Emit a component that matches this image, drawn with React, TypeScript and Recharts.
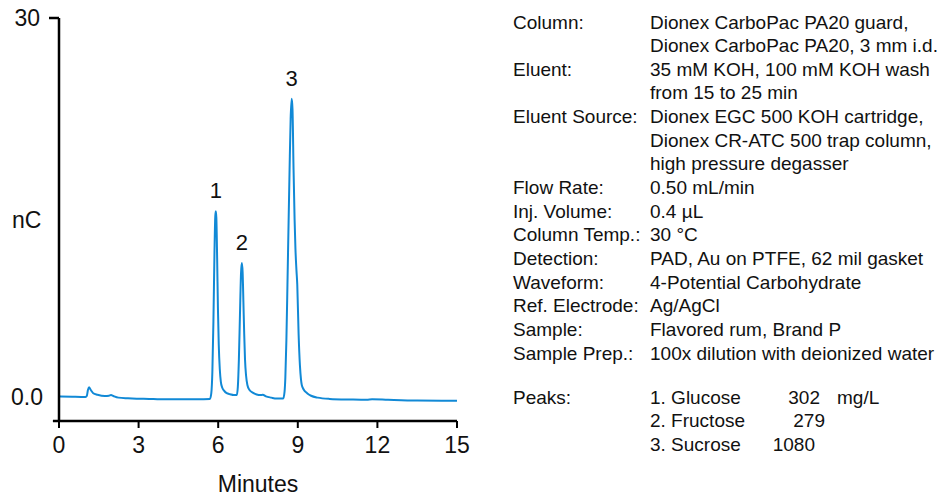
import { Line, LineChart, ReferenceDot, ReferenceLine, XAxis, YAxis } from "recharts";

// retention time (min) and detector response (nC)
const times = [
  0, 0.5, 1.0, 1.05, 1.09, 1.13, 1.2, 1.29, 1.45, 1.73, 1.88, 1.96, 2.05, 2.24, 2.6, 2.93, 3.4, 3.81, 4.5, 5.2, 5.69,
  5.74, 5.78, 5.82, 5.86, 5.89, 5.91, 5.93, 5.96, 5.99, 6.02, 6.06, 6.1, 6.15, 6.22, 6.32, 6.45, 6.58, 6.66,
  6.7, 6.74, 6.78, 6.82, 6.86, 6.89, 6.92, 6.95, 6.98, 7.01, 7.05, 7.1, 7.18, 7.3, 7.45, 7.6, 7.68, 7.8, 8.0, 8.2,
  8.45, 8.5, 8.53, 8.57, 8.61, 8.65, 8.69, 8.73, 8.77, 8.8, 8.84, 8.88, 8.91, 8.95, 8.98, 9.03, 9.08, 9.12, 9.15,
  9.22, 9.35, 9.5, 9.75, 10.2, 11.0, 11.6, 11.8, 12.4, 13.5, 15.0,
];
const response = [
  0.05, 0.02, 0.0, 0.1, 0.55, 0.77, 0.55, 0.3, 0.18, 0.08, 0.1, 0.16, 0.08, -0.05, -0.1, -0.13, -0.15, -0.18, -0.18,
  -0.18, -0.15,
  0.3, 2.0, 6.0, 11.5, 14.3, 14.7, 14.2, 11.0, 7.0, 4.2, 2.2, 1.2, 0.75, 0.5, 0.3, 0.22, 0.15, 0.15,
  0.15, 0.8, 3.0, 6.5, 9.8, 10.6, 9.9, 7.5, 5.0, 3.0, 1.7, 0.95, 0.55, 0.35, 0.2, 0.15, 0.18, 0.05, -0.05, -0.12,
  -0.12, 0.4, 1.5, 4.5, 8.9, 13.5, 18.0, 22.0, 23.6, 22.8, 18.0, 14.0, 11.8, 10.0, 8.9, 5.0, 2.5, 1.4, 0.95,
  0.6, 0.3, 0.1, -0.05, -0.15, -0.2, -0.22, -0.18, -0.22, -0.28, -0.3,
];

const xTicks = [0, 3, 6, 9, 12, 15];
const yTicks = [0, 30];

const peakNames = ["1", "2", "3"];
const peakTimes = [5.91, 6.89, 8.77];
const peakHeights = [14.7, 10.6, 23.6];

const conditionLabels = [
  "Column:", "", "Eluent:", "", "Eluent Source:", "", "", "Flow Rate:", "Inj. Volume:", "Column Temp.:",
  "Detection:", "Waveform:", "Ref. Electrode:", "Sample:", "Sample Prep.:",
];
const conditionValues = [
  "Dionex CarboPac PA20 guard,",
  "Dionex CarboPac PA20, 3 mm i.d.",
  "35 mM KOH, 100 mM KOH wash",
  "from 15 to 25 min",
  "Dionex EGC 500 KOH cartridge,",
  "Dionex CR-ATC 500 trap column,",
  "high pressure degasser",
  "0.50 mL/min",
  "0.4 µL",
  "30 °C",
  "PAD, Au on PTFE, 62 mil gasket",
  "4-Potential Carbohydrate",
  "Ag/AgCl",
  "Flavored rum, Brand P",
  "100x dilution with deionized water",
];
const peakAnalytes = ["1. Glucose", "2. Fructose", "3. Sucrose"];
const peakAmounts = ["302", "279", "1080"];

const data = times.map((t, i) => ({ t, nC: response[i] }));

const FONT = "'Liberation Sans', Arial, sans-serif";
const BLUE = "#1189d6";
const Y_MIN = -1.9;

function YTick(props: any) {
  const { x, y, payload } = props;
  const v = payload.value as number;
  return (
    <g>
      {v === 30 ? <line x1={x + 6} x2={x + 16} y1={y} y2={y} stroke="#000" strokeWidth={2.5} /> : null}
      <text
        x={v === 30 ? x - 3 : x}
        y={y}
        textAnchor="end"
        dominantBaseline="central"
        fontSize={23}
        fontFamily={FONT}
        fill="#111"
      >
        {v === 0 ? "0.0" : String(v)}
      </text>
    </g>
  );
}

export default function App() {
  const rowY = (i: number) => 22 + i * 23.65;
  return (
    <div style={{ position: "absolute", left: 0, top: 0, width: 942, height: 500, background: "#fff" }}>
      <LineChart
        width={942}
        height={500}
        data={data}
        margin={{ top: 18, right: 485, bottom: 0, left: 0 }}
        style={{ fontFamily: FONT }}
      >
        <XAxis
          dataKey="t"
          type="number"
          domain={[0, 15]}
          ticks={xTicks}
          height={79}
          tickSize={7}
          tickMargin={9}
          axisLine={{ stroke: "#000", strokeWidth: 2.5 }}
          tickLine={{ stroke: "#000", strokeWidth: 2 }}
          tick={{ fill: "#111", fontSize: 23, fontFamily: FONT }}
          label={{ value: "Minutes", position: "insideBottom", offset: 8, fill: "#111", fontSize: 23, fontFamily: FONT }}
        />
        <YAxis
          type="number"
          domain={[Y_MIN, 30]}
          ticks={yTicks}
          width={59}
          tickSize={10}
          tickMargin={6}
          tickLine={false}
          axisLine={{ stroke: "#000", strokeWidth: 2.5 }}
          tick={<YTick />}
          label={{ value: "nC", position: "insideLeft", offset: 12, fill: "#111", fontSize: 23, fontFamily: FONT }}
        />
        <ReferenceLine
          segment={[
            { x: -0.23, y: Y_MIN },
            { x: 0, y: Y_MIN },
          ]}
          stroke="#000"
          strokeWidth={2.5}
          ifOverflow="visible"
        />
        <Line
          type="monotone"
          dataKey="nC"
          stroke={BLUE}
          strokeWidth={2}
          dot={false}
          activeDot={false}
          isAnimationActive={false}
        />
        {peakNames.map((name, i) => (
          <ReferenceDot
            key={name}
            x={peakTimes[i]}
            y={peakHeights[i]}
            r={0}
            stroke="none"
            fill="none"
            ifOverflow="visible"
            label={{ value: name, position: "top", offset: 13, fill: "#111", fontSize: 22, fontFamily: FONT }}
          />
        ))}
      </LineChart>
      <svg
        width={942}
        height={500}
        style={{ position: "absolute", left: 0, top: 0, pointerEvents: "none" }}
        fontFamily={FONT}
        fontSize={19}
        fill="#111"
      >
        {conditionLabels.map((label, i) =>
          label ? (
            <text key={"l" + i} x={513} y={rowY(i)} dominantBaseline="central">
              {label}
            </text>
          ) : null,
        )}
        {conditionValues.map((value, i) => (
          <text key={"v" + i} x={650} y={rowY(i)} dominantBaseline="central">
            {value}
          </text>
        ))}
        <text x={513} y={397} dominantBaseline="central">
          Peaks:
        </text>
        {peakAnalytes.map((name, i) => (
          <text key={"p" + i} x={650} y={397 + i * 23.8} dominantBaseline="central">
            {name}
          </text>
        ))}
        {peakAmounts.map((amt, i) => (
          <text key={"a" + i} x={820 + (i === 1 ? 5 : i === 2 ? -5 : 0)} y={397 + i * 23.8} dominantBaseline="central" textAnchor="end">
            {amt}
          </text>
        ))}
        <text x={837} y={397} dominantBaseline="central">
          mg/L
        </text>
      </svg>
    </div>
  );
}
